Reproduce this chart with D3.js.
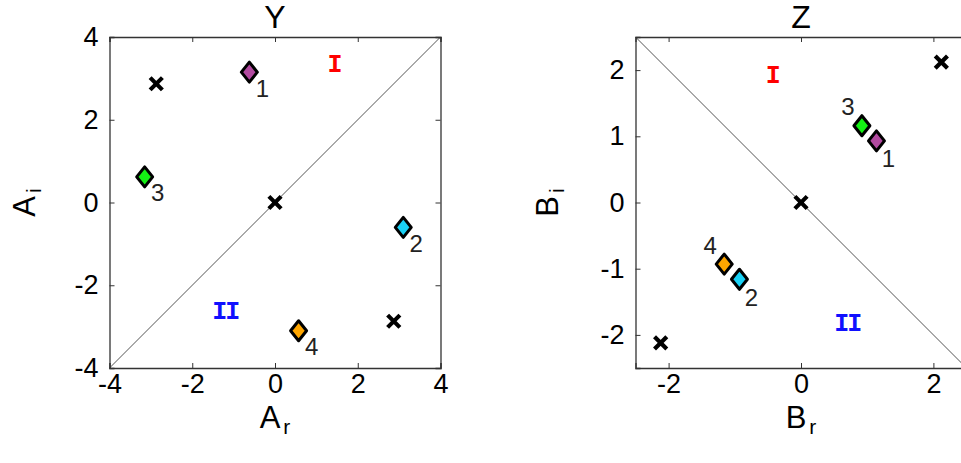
<!DOCTYPE html>
<html>
<head>
<meta charset="utf-8">
<script src="https://cdn.jsdelivr.net/npm/d3@7"></script>
<style>
  body { margin: 0; background: #fff; }
  svg { display: block; }
  text { font-family: "Liberation Sans", Arial, sans-serif; }
</style>
</head>
<body>
<svg id="chart" width="961" height="463"></svg>
<script>
// ---- data ----
// Panel Y: complex amplitudes A = A_r + i A_i
const yIds  = [1, 2, 3, 4];
const yRe   = [-0.62, 3.10, -3.15, 0.57];
const yIm   = [3.15, -0.60, 0.62, -3.10];
const yCrossRe = [-2.87, 0, 2.87];
const yCrossIm = [2.87, 0, -2.87];

// Panel Z: complex amplitudes B = B_r + i B_i
const zIds  = [1, 2, 3, 4];
const zRe   = [1.14, -0.93, 0.92, -1.16];
const zIm   = [0.93, -1.16, 1.16, -0.93];
const zCrossRe = [2.12, 0, -2.12];
const zCrossIm = [2.12, 0, -2.12];

const yTicks = [-4, -2, 0, 2, 4];
const zTicksX = [-2, 0, 2];
const zTicksY = [-2, -1, 0, 1, 2];

const pointColors = { 1: "#b24aa0", 2: "#1ad2f6", 3: "#14f014", 4: "#ffa600" };

const svg = d3.select("#chart");

function drawPanel(cfg) {
  const g = svg.append("g");
  const x = d3.scaleLinear().domain(cfg.domain).range([cfg.left, cfg.left + cfg.size]);
  const y = d3.scaleLinear().domain(cfg.domain).range([cfg.top + cfg.size, cfg.top]);

  // diagonal separating regions I and II
  const d0 = cfg.domain[0], d1 = cfg.domain[1];
  const diag = cfg.diagUp ? [[d0, d0], [d1, d1]] : [[d0, d1], [d1, d0]];
  g.append("line")
    .attr("x1", x(diag[0][0])).attr("y1", y(diag[0][1]))
    .attr("x2", x(diag[1][0])).attr("y2", y(diag[1][1]))
    .attr("stroke", "#555").attr("stroke-width", 1);

  // axes (ticks pointing inward, box on all sides)
  const fmt = d => d3.format("d")(d).replace("−", "-");
  const axB = g.append("g").attr("transform", `translate(0,${cfg.top + cfg.size})`)
    .call(d3.axisBottom(x).tickValues(cfg.ticksX).tickSize(-5).tickPadding(6).tickFormat(fmt));
  const axL = g.append("g").attr("transform", `translate(${cfg.left},0)`)
    .call(d3.axisLeft(y).tickValues(cfg.ticksY).tickSize(-5).tickPadding(11).tickFormat(fmt));
  const axT = g.append("g").attr("transform", `translate(0,${cfg.top})`)
    .call(d3.axisTop(x).tickValues(cfg.ticksX).tickSize(-5).tickFormat(""));
  const axR = g.append("g").attr("transform", `translate(${cfg.left + cfg.size},0)`)
    .call(d3.axisRight(y).tickValues(cfg.ticksY).tickSize(-5).tickFormat(""));
  [axB, axL, axT, axR].forEach(a => {
    a.select(".domain").attr("stroke", "#333").attr("stroke-width", 1.3);
    a.selectAll(".tick line").attr("stroke", "#333");
    a.selectAll(".tick text").attr("fill", "#000")
      .style("font-size", "27px").style("font-family", "'Liberation Sans', Arial, sans-serif");
  });
  axB.selectAll(".tick text").attr("dy", "0.71em");

  // region labels
  g.append("text").attr("x", x(cfg.regI[0])).attr("y", y(cfg.regI[1]))
    .attr("text-anchor", "middle").attr("dominant-baseline", "central")
    .attr("fill", "#ff0000").style("font-family", "'Liberation Mono', monospace")
    .style("font-weight", "bold").style("font-size", "25px").text("I");
  g.append("text").attr("x", x(cfg.regII[0])).attr("y", y(cfg.regII[1]))
    .attr("text-anchor", "middle").attr("dominant-baseline", "central")
    .attr("fill", "#1010ff").style("font-family", "'Liberation Mono', monospace")
    .style("font-weight", "bold").style("font-size", "25px").attr("letter-spacing", "-2px").text("II");

  // crosses
  const cross = d3.symbol().type(d3.symbolX).size(100);
  g.selectAll(".cross").data(cfg.crossRe.map((r, i) => [r, cfg.crossIm[i]]))
    .join("path")
    .attr("d", cross)
    .attr("transform", d => `translate(${x(d[0])},${y(d[1])})`)
    .attr("stroke", "#000").attr("stroke-width", 4.2).attr("fill", "none");

  // diamonds
  const pts = cfg.ids.map((id, i) => ({ id, re: cfg.re[i], im: cfg.im[i] }));
  const dia = "M0,-10 L8,0 L0,10 L-8,0 Z";
  g.selectAll(".dia").data(pts).join("path")
    .attr("d", dia)
    .attr("transform", d => `translate(${x(d.re)},${y(d.im)})`)
    .attr("fill", d => pointColors[d.id])
    .attr("stroke", "#000").attr("stroke-width", 3).attr("stroke-linejoin", "round");

  g.selectAll(".lbl").data(pts).join("text")
    .attr("x", d => x(d.re) + cfg.labelOff(d.id)[0])
    .attr("y", d => y(d.im) + cfg.labelOff(d.id)[1])
    .attr("text-anchor", "middle").attr("dominant-baseline", "central")
    .attr("fill", "#222").style("font-size", "24px")
    .text(d => d.id);

  // title
  g.append("text").attr("x", cfg.left + cfg.size / 2).attr("y", cfg.top - 9)
    .attr("text-anchor", "middle").style("font-size", "32px").attr("fill", "#000")
    .text(cfg.title);

  // axis labels
  const xl = g.append("text").attr("x", cfg.left + cfg.size / 2).attr("y", cfg.top + cfg.size + 60)
    .attr("text-anchor", "middle").attr("fill", "#000").style("font-size", "31px");
  xl.append("tspan").text(cfg.sym);
  xl.append("tspan").attr("dy", 6).attr("dx", 3).style("font-size", "21px").text("r");

  const yl = g.append("text")
    .attr("transform", `translate(${cfg.left - cfg.ylabOff},${cfg.top + cfg.size / 2}) rotate(-90)`)
    .attr("text-anchor", "middle").attr("fill", "#000").style("font-size", "31px");
  yl.append("tspan").text(cfg.sym);
  yl.append("tspan").attr("dy", 6).attr("dx", 3).style("font-size", "21px").text("i");
}

drawPanel({
  title: "Y", sym: "A", domain: [-4, 4], left: 109.5, top: 37, size: 331,
  ticksX: yTicks, ticksY: yTicks, diagUp: true,
  ids: yIds, re: yRe, im: yIm, crossRe: yCrossRe, crossIm: yCrossIm,
  regI: [1.45, 3.3], regII: [-1.2, -2.65], ylabOff: 75,
  labelOff: () => [13, 16]
});

drawPanel({
  title: "Z", sym: "B", domain: [-2.5, 2.5], left: 635.5, top: 37, size: 331,
  ticksX: zTicksX, ticksY: zTicksY, diagUp: false,
  ids: zIds, re: zRe, im: zIm, crossRe: zCrossRe, crossIm: zCrossIm,
  regI: [-0.42, 1.9], regII: [0.7, -1.85], ylabOff: 78,
  labelOff: id => (id === 3 || id === 4) ? [-14, -19] : [12, 18]
});
</script>
</body>
</html>
